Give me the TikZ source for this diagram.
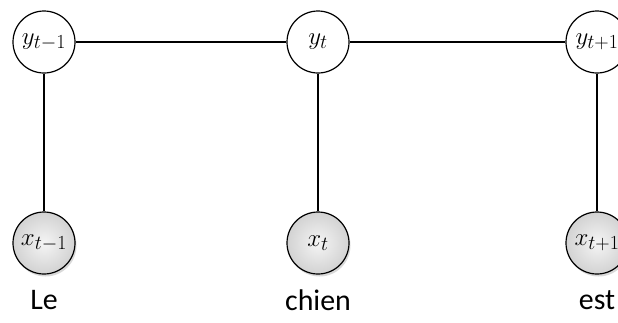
\RequirePackage{fix-cm}
\documentclass[tikz,border=0pt]{standalone}
\usepackage{fontspec}
\setmainfont{Carlito}
\usetikzlibrary{shadows}
\DeclareMathSizes{25}{25}{20}{16}

\begin{document}
\begin{tikzpicture}[x=1bp, y=-1bp, label/.style = {circle, draw, line width=1.2bp, minimum size=62bp, inner sep=0pt, fill=white, font=\fontsize{25}{28}\selectfont}, observed/.style = {label, shading=radial, inner color=gray!8, outer color=gray!35, drop shadow={opacity=0.3, shadow xshift=1.5bp, shadow yshift=-2.5bp}}, word/.style = {font=\fontsize{30}{34}\selectfont}]

    \useasboundingbox (0,0) rectangle (618,322);

    % hidden states
    \node[label] (y0) at (44,42) {$y_{t-1}$};
    \node[label] (y1) at (318,42) {$y_t$};
    \node[label] (y2) at (597,42) {$y_{t+1}$};

    % observations
    \node[observed] (x0) at (44,243) {$x_{t-1}$};
    \node[observed] (x1) at (318,243) {$x_t$};
    \node[observed] (x2) at (597,243) {$x_{t+1}$};

    % words
    \node[word] (w0) at (44,300) {Le};
    \node[word] (w1) at (318,300) {chien};
    \node[word] (w2) at (597,300) {est};

    % edges
    \draw[line width=1.2bp] (y0) -- (y1);
    \draw[line width=1.2bp] (y1) -- (y2);
    \foreach \i in {0,1,2}
        \draw[line width=1.2bp] (y\i) -- (x\i);

\end{tikzpicture}
\end{document}
